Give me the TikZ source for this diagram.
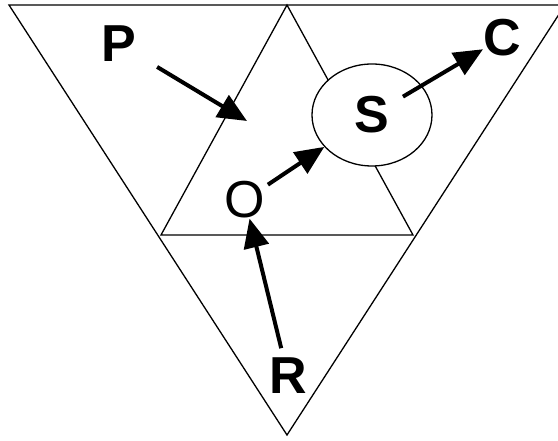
\documentclass[tikz,border=0pt]{standalone}
\usepackage{fontspec}
\setmainfont{Liberation Sans}
\usetikzlibrary{arrows.meta, shapes.geometric}

\begin{document}
\begin{tikzpicture}[x=1pt, y=1pt,
  edge/.style={line width=1.3pt, line join=miter},
  lbl/.style={font=\fontsize{52}{52}\selectfont\bfseries, inner sep=0pt},
  lblthin/.style={font=\fontsize{52}{52}\selectfont, inner sep=0pt},
  arr/.style={-{Triangle[length=29pt, width=25pt]}, line width=4pt},
]
  \useasboundingbox (0,0) rectangle (558,441);
  \clip (0,0) rectangle (558,441);

  % outer and inner triangles
  \draw[edge] (9,436) -- (565,436) -- (287,6) -- cycle;
  \draw[edge] (287,436) -- (161,206) -- (413,206) -- cycle;

  \node[lbl] (P) at (119,397) {P};
  \node[lbl] (C) at (502,403) {C};
  \node[lbl] (R) at (288,65) {R};
  \node[lblthin] (O) at (245,241) {O};
  \node[lbl, draw, fill=white, ellipse, line width=1.3pt, minimum width=120pt, minimum height=102pt] (S) at (372,326) {S};
  \coordinate (Ptip) at (247,320);

  \draw[arr, shorten <=24pt] (P) -- (Ptip);
  \draw[arr, shorten <=3pt] (O) -- (S);
  \draw[arr, shorten <=36pt] (S.center) -- (C);
  \draw[arr, shorten <=10pt] (R) -- (O);
\end{tikzpicture}
\end{document}
